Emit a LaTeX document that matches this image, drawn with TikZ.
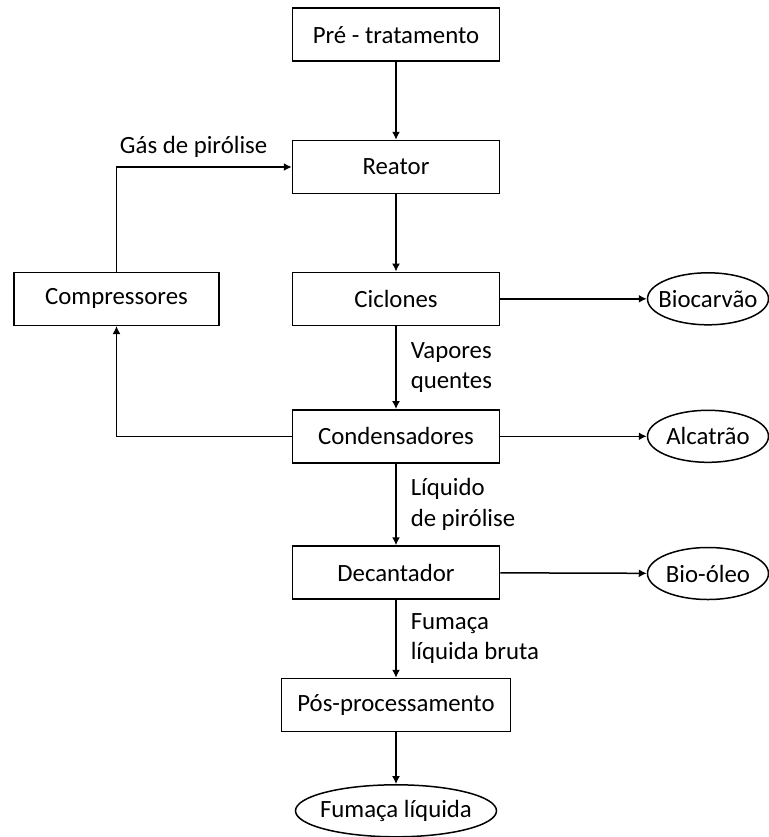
\documentclass[tikz,border=0pt]{standalone}
\usepackage{fontspec}
\setmainfont{Carlito}
\usetikzlibrary{positioning,arrows.meta,shapes.geometric}

\begin{document}
\begin{tikzpicture}[x=0.5pt,y=-0.5pt,font=\fontsize{12.4}{15.2}\selectfont,
  box/.style={rectangle,draw=black,line width=0.75pt,minimum width=103.5pt,minimum height=26.5pt,inner sep=0pt},
  product/.style={ellipse,draw=black,line width=0.75pt,minimum width=60.5pt,minimum height=26pt,inner xsep=-4pt,inner ysep=0pt},
  flow/.style={-{Latex[length=4pt,width=4pt]},line width=0.75pt},
  lbl/.style={align=left,inner sep=0pt}]
  \useasboundingbox (0,0) rectangle (768,837);

  \node [box] (pre) at (396,34.7) {Pré - tratamento};
  \node [box] (reator) at (396,167) {Reator};
  \node [box] (ciclones) at (396,298.8) {Ciclones};
  \node [box,minimum width=102.5pt] (compressores) at (116.5,298.8) {Compressores};
  \node [box] (condensadores) at (396,436.3) {Condensadores};
  \node [box] (decantador) at (396,572.5) {Decantador};
  \node [box,minimum width=114.5pt] (pos) at (396,705) {Pós-processamento};

  \node [product] (biocarvao) at (708,298.8) {Biocarvão};
  \node [product] (alcatrao) at (708,436.3) {Alcatrão};
  \node [product] (biooleo) at (708,573.5) {Bio-óleo};
  \node [product,minimum width=100.5pt] (fumaca) at (396,810.8) {Fumaça líquida};

  \draw [flow] (pre) -- (reator);
  \draw [flow] (reator) -- (ciclones);
  \draw [flow] (ciclones) -- node [lbl,anchor=west,xshift=7pt] {Vapores\\quentes} (condensadores);
  \draw [flow] (condensadores) -- node [lbl,anchor=west,xshift=7pt] {Líquido\\de pirólise} (decantador);
  \draw [flow] (decantador) -- node [lbl,anchor=west,xshift=7pt] {Fumaça\\líquida bruta} (pos);
  \draw [flow] (pos) -- (fumaca);

  \draw [flow] (ciclones) -- (biocarvao);
  \draw [flow] (condensadores) -- (alcatrao);
  \draw [flow] (decantador) -- (biooleo);

  % retorno do gas
  \draw [flow] (condensadores.west) -| (compressores.south);
  \draw [flow] (compressores.north) |- node [lbl,pos=0.72,yshift=10pt] {Gás de pirólise} (reator.west);
\end{tikzpicture}
\end{document}
